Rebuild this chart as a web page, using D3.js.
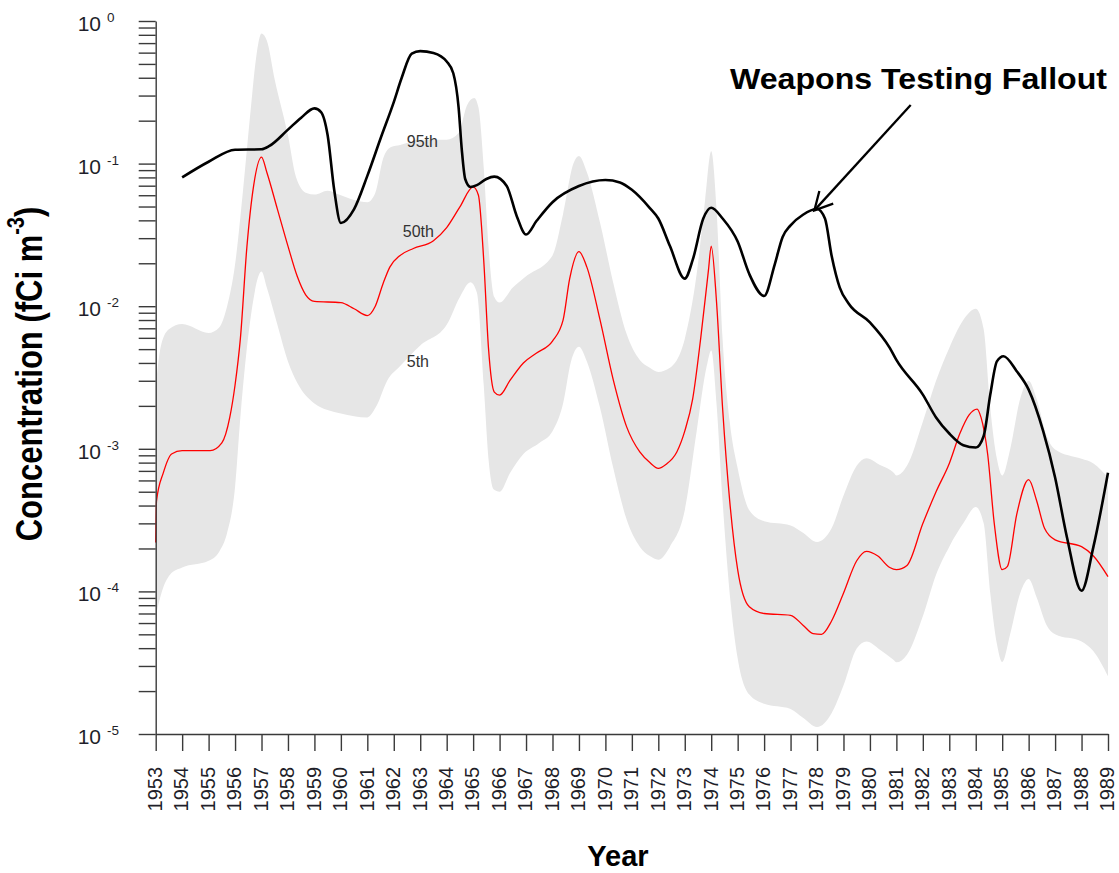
<!DOCTYPE html>
<html>
<head>
<meta charset="utf-8">
<script src="https://cdn.jsdelivr.net/npm/d3@7"></script>
<style>
  html, body { margin: 0; padding: 0; background: #fff; }
  svg { display: block; }
  text { font-family: "Liberation Sans", Arial, Helvetica, sans-serif; }
</style>
</head>
<body>
<svg id="chart" width="1119" height="873"></svg>
<script>
// ---------------- DATA ----------------
const years = d3.range(1953, 1990);
const yDecades = [1, 0.1, 0.01, 0.001, 0.0001, 0.00001];
const yDecadeExponents = ["0", "-1", "-2", "-3", "-4", "-5"];
const percentileLabels = ["95th", "50th", "5th"];
const annotationText = "Weapons Testing Fallout";
const xTitle = "Year";

// Weapons testing fallout (black line) [year, fCi m^-3]
const fallout = [
  [1954,0.080],[1955,0.103],[1956,0.125],[1957,0.126],[1957.3,0.133],[1958,0.173],[1958.5,0.21],
  [1959,0.244],[1959.25,0.23],[1959.5,0.158],[1959.75,0.065],[1960,0.0383],[1960.5,0.048],
  [1961,0.082],[1961.5,0.15],[1962,0.27],[1962.3,0.40],[1962.68,0.59],[1963,0.615],
  [1963.5,0.597],[1964,0.52],[1964.25,0.43],[1964.45,0.248],[1964.57,0.126],[1964.7,0.078],
  [1964.9,0.0686],[1965.14,0.0706],[1965.5,0.078],[1965.8,0.081],[1966.27,0.0696],[1966.65,0.0428],
  [1967,0.0318],[1967.4,0.0397],[1968,0.0536],[1969,0.0696],[1970,0.0767],[1970.55,0.0738],
  [1971,0.0655],[1971.68,0.0488],[1972,0.0412],[1972.44,0.0264],[1973,0.0156],[1973.3,0.0211],
  [1973.7,0.0412],[1974,0.049],[1974.43,0.0412],[1975,0.0284],[1975.44,0.0168],[1976,0.0118],
  [1976.4,0.0196],[1976.7,0.0306],[1977,0.0369],[1977.47,0.0438],[1978,0.048],[1978.3,0.0412],
  [1978.55,0.0227],[1978.86,0.0135],[1979.2,0.0104],[1980,0.0077],[1980.75,0.0051],[1981,0.0042],
  [1982,0.0024],[1982.5,0.00166],[1983,0.00128],[1983.53,0.00106],[1984,0.00102],[1984.3,0.00123],
  [1984.55,0.0024],[1984.8,0.0041],[1985.05,0.00446],[1985.55,0.0035],[1986,0.0026],[1986.55,0.00133],
  [1987,0.00063],[1987.45,0.000239],[1988,0.000101],[1988.45,0.000206],[1989,0.00068]
];

// 50th percentile (red line)
const median = [
  [1953,0.00022],[1953.03,0.00043],[1953.29,0.00068],[1953.6,0.00092],[1954,0.00097],[1955.06,0.00097],
  [1955.5,0.0011],[1955.8,0.00166],[1956,0.0028],[1956.2,0.0059],[1956.45,0.0264],[1956.7,0.0696],
  [1957,0.111],[1957.2,0.087],[1957.6,0.048],[1958,0.0264],[1958.35,0.0162],[1958.67,0.012],
  [1959,0.0108],[1960,0.0106],[1960.5,0.0096],[1961,0.0086],[1961.3,0.010],[1961.6,0.0145],
  [1961.85,0.0188],[1962.24,0.0227],[1962.74,0.0254],[1963.5,0.0288],[1964,0.0356],[1964.5,0.0497],
  [1965,0.0686],[1965.2,0.060],[1965.4,0.0211],[1965.58,0.0051],[1965.8,0.0025],[1966,0.00238],
  [1966.4,0.00303],[1966.9,0.0040],[1967.4,0.0047],[1968,0.0057],[1968.4,0.00798],[1968.65,0.0156],
  [1969,0.0241],[1969.3,0.0188],[1969.8,0.00798],[1970.3,0.00303],[1970.8,0.00143],[1971.3,0.00095],
  [1971.68,0.00080],[1972,0.00073],[1972.3,0.00078],[1972.7,0.00095],[1973,0.00133],[1973.3,0.00224],
  [1973.6,0.0059],[1973.9,0.0182],[1974,0.0264],[1974.2,0.0108],[1974.43,0.00193],[1974.7,0.00043],
  [1975,0.000142],[1975.44,0.000078],[1976,0.000070],[1977,0.000068],[1977.47,0.000058],
  [1977.85,0.0000506],[1978.17,0.000050],[1978.55,0.000062],[1979,0.000097],[1979.5,0.000164],
  [1979.87,0.000191],[1980.3,0.000177],[1980.75,0.000147],[1981,0.000142],[1981.4,0.000152],
  [1982,0.000299],[1982.5,0.00050],[1983,0.00079],[1983.4,0.00128],[1983.75,0.00173],[1984.05,0.0019],
  [1984.2,0.00166],[1984.45,0.00092],[1984.7,0.00030],[1985,0.000142],[1985.2,0.00015],
  [1985.55,0.000347],[1986,0.000607],[1986.3,0.000434],[1986.6,0.000277],[1987,0.00023],
  [1988,0.000206],[1988.45,0.000177],[1989,0.000127]
];

// 95th percentile (upper edge of grey band)
const upper95 = [
  [1953,0.0027],[1953.2,0.0053],[1953.5,0.0069],[1954,0.0075],[1955,0.0065],[1955.4,0.0071],
  [1955.7,0.010],[1956,0.0196],[1956.3,0.0645],[1956.6,0.248],[1956.8,0.56],[1957,0.818],
  [1957.2,0.73],[1957.5,0.388],[1958,0.158],[1958.3,0.081],[1958.7,0.0622],[1959,0.0606],
  [1959.5,0.0645],[1960,0.060],[1960.5,0.0556],[1961,0.0536],[1961.3,0.0622],[1961.6,0.109],
  [1961.9,0.131],[1962.24,0.135],[1963,0.147],[1964,0.147],[1964.45,0.164],[1964.77,0.257],
  [1965.04,0.288],[1965.2,0.248],[1965.4,0.094],[1965.58,0.0264],[1965.8,0.0116],[1966,0.0106],
  [1966.5,0.0135],[1967,0.0162],[1968,0.0227],[1968.4,0.0444],[1968.8,0.101],[1969,0.113],
  [1969.3,0.087],[1969.8,0.0383],[1970.3,0.0145],[1970.8,0.0064],[1971.3,0.0042],[1971.68,0.0037],
  [1972,0.00346],[1972.44,0.0037],[1973,0.0059],[1973.45,0.0168],[1973.77,0.0556],[1974,0.122],
  [1974.2,0.048],[1974.43,0.0059],[1974.7,0.00155],[1975,0.00073],[1975.44,0.00037],[1976,0.00031],
  [1977,0.00029],[1977.47,0.000258],[1978,0.000222],[1978.55,0.000277],[1979,0.000468],
  [1979.5,0.00076],[1979.87,0.00086],[1980.38,0.00077],[1980.9,0.00068],[1981,0.00065],
  [1981.4,0.00076],[1982,0.00155],[1982.5,0.0030],[1983,0.0051],[1983.53,0.0080],[1984,0.0096],
  [1984.3,0.0069],[1984.55,0.00193],[1984.8,0.00085],[1985,0.00065],[1985.3,0.00099],
  [1985.68,0.00224],[1986,0.0030],[1986.3,0.00224],[1986.68,0.00123],[1987,0.00099],
  [1988,0.00085],[1988.45,0.00079],[1989,0.00063]
];

// 5th percentile (lower edge of grey band)
const lower5 = [
  [1953,0.000067],[1953.22,0.000098],[1953.54,0.000131],[1954,0.000147],[1955,0.000164],
  [1955.4,0.00019],[1955.7,0.000258],[1956,0.00054],[1956.2,0.00166],[1956.6,0.0086],[1957,0.0175],
  [1957.2,0.0135],[1957.6,0.0074],[1958,0.0041],[1958.35,0.0029],[1959,0.00208],[1960,0.00177],
  [1961,0.00166],[1961.35,0.0020],[1961.75,0.0030],[1962.24,0.0038],[1963,0.0053],[1964,0.0074],
  [1964.5,0.0116],[1964.9,0.0147],[1965.14,0.0125],[1965.4,0.0028],[1965.58,0.00085],[1965.77,0.00052],
  [1966,0.00050],[1966.4,0.00068],[1966.9,0.00092],[1967.5,0.0011],[1968,0.00133],[1968.4,0.00208],
  [1968.7,0.0041],[1969,0.0052],[1969.3,0.0041],[1969.8,0.00193],[1970.3,0.00073],[1970.8,0.00032],
  [1971.3,0.000206],[1971.68,0.000177],[1972,0.000167],[1972.44,0.000206],[1973,0.00037],
  [1973.45,0.00133],[1973.83,0.0038],[1974,0.0049],[1974.2,0.00208],[1974.43,0.00043],
  [1974.75,0.000078],[1975,0.000034],[1975.44,0.0000189],[1976,0.0000163],[1977,0.000015],
  [1977.47,0.000013],[1978,0.0000112],[1978.55,0.000014],[1979,0.0000219],[1979.5,0.0000398],
  [1979.87,0.0000445],[1980.38,0.000039],[1980.9,0.000033],[1981,0.0000318],[1981.4,0.000036],
  [1982,0.000067],[1982.5,0.000131],[1983,0.000206],[1983.53,0.00030],[1984,0.00039],[1984.3,0.00030],
  [1984.55,0.000097],[1984.8,0.000043],[1985,0.000032],[1985.3,0.000050],[1985.68,0.000097],
  [1986,0.000122],[1986.3,0.000091],[1986.68,0.000058],[1987,0.000050],[1988,0.0000445],
  [1988.45,0.000038],[1989,0.0000254]
];

// ---------------- CHART ----------------
const svg = d3.select("#chart");
const x = d3.scaleLinear().domain([1953, 1989]).range([155.7, 1108]);
const y = d3.scaleLog().domain([1e-5, 1]).range([734, 21]);
const axisColor = "#3a3a3a";

const lineGen = d3.line().x(d => x(d[0])).y(d => y(d[1])).curve(d3.curveMonotoneX);

// Grey band (95th to 5th)
const upperPath = lineGen(upper95);
const lowerPath = lineGen(lower5.slice().reverse());
svg.append("path")
  .attr("d", upperPath + "L" + lowerPath.slice(1) + "Z")
  .attr("fill", "#e6e6e6")
  .attr("stroke", "none");

// Percentile labels
const labelPos = [[1962.49, 0.1307], [1962.34, 0.0307], [1962.49, 0.00375]];
svg.selectAll("text.pct").data(percentileLabels).enter().append("text")
  .attr("class", "pct")
  .attr("x", (d, i) => x(labelPos[i][0]))
  .attr("y", (d, i) => y(labelPos[i][1]))
  .attr("font-size", 16)
  .attr("fill", "#333")
  .text(d => d);

// Median (red)
svg.append("path")
  .attr("d", lineGen(median))
  .attr("fill", "none")
  .attr("stroke", "#ff0000")
  .attr("stroke-width", 1.3);

// Fallout (black)
svg.append("path")
  .attr("d", lineGen(fallout))
  .attr("fill", "none")
  .attr("stroke", "#000")
  .attr("stroke-width", 2.6)
  .attr("stroke-linejoin", "round");

// Y axis with log minor ticks
const logTicks = [];
for (let e = -5; e <= 0; e++) {
  for (let m = 1; m <= 9; m++) {
    const v = m * Math.pow(10, e);
    if (v <= 1.0000001) logTicks.push(v);
  }
}
const yAxis = svg.append("g")
  .attr("transform", `translate(${x(1953)},0)`)
  .call(d3.axisLeft(y).tickValues(logTicks).tickSize(17).tickSizeOuter(0).tickFormat(""));
yAxis.selectAll("path,line").attr("stroke", axisColor).attr("stroke-width", 1.4);

// Y tick labels with superscripts
yDecades.forEach((v, i) => {
  svg.append("text")
    .attr("x", 101)
    .attr("y", y(v) + 10)
    .attr("text-anchor", "end")
    .attr("font-size", 21)
    .attr("fill", "#1f1f2a")
    .text("10");
  svg.append("text")
    .attr("x", 107)
    .attr("y", y(v) + 1)
    .attr("font-size", 13.5)
    .attr("fill", "#1f1f2a")
    .text(yDecadeExponents[i]);
});

// X axis
const xAxis = svg.append("g")
  .attr("transform", `translate(0,${y(1e-5)})`)
  .call(d3.axisBottom(x).tickValues(years).tickSize(17).tickSizeOuter(0).tickFormat(""));
xAxis.selectAll("path,line").attr("stroke", axisColor).attr("stroke-width", 1.4);

svg.selectAll("text.year").data(years).enter().append("text")
  .attr("class", "year")
  .attr("transform", d => `translate(${x(d)},767) scale(1.05,1) rotate(-90)`)
  .attr("text-anchor", "end")
  .attr("dy", "0.3em")
  .attr("font-size", 20)
  .attr("fill", "#1f1f2a")
  .text(d => String(d));

// Axis titles
svg.append("text")
  .attr("x", 618)
  .attr("y", 866)
  .attr("text-anchor", "middle")
  .attr("font-size", 29)
  .attr("font-weight", "bold")
  .attr("fill", "#000")
  .text(xTitle);

const yt = svg.append("text")
  .attr("transform", "translate(29,374) scale(1.2,1) rotate(-90)")
  .attr("text-anchor", "middle")
  .attr("dy", "0.35em")
  .attr("font-size", 31)
  .attr("font-weight", "bold")
  .attr("fill", "#000");
yt.append("tspan").text("Concentration (fCi m");
yt.append("tspan").attr("font-size", 20).attr("dy", "-0.75em").text("-3");
yt.append("tspan").attr("dy", "0.465em").text(")");

// Annotation
svg.append("text")
  .attr("x", 730)
  .attr("y", 89)
  .attr("font-size", 29)
  .attr("font-weight", "bold")
  .attr("fill", "#000")
  .attr("textLength", 377)
  .attr("lengthAdjust", "spacingAndGlyphs")
  .text(annotationText);

const tip = [x(1977.9), y(0.047)];
const tail = [910.7, 105];
const ang = Math.atan2(tail[1] - tip[1], tail[0] - tip[0]);
const bl = 20, ba = 28 * Math.PI / 180;
const b1 = [tip[0] + bl * Math.cos(ang - ba), tip[1] + bl * Math.sin(ang - ba)];
const b2 = [tip[0] + bl * Math.cos(ang + ba), tip[1] + bl * Math.sin(ang + ba)];
svg.append("line")
  .attr("x1", tail[0]).attr("y1", tail[1]).attr("x2", tip[0]).attr("y2", tip[1])
  .attr("stroke", "#000").attr("stroke-width", 2.3);
svg.append("path")
  .attr("d", `M${b1[0]},${b1[1]}L${tip[0]},${tip[1]}L${b2[0]},${b2[1]}`)
  .attr("fill", "none").attr("stroke", "#000").attr("stroke-width", 2.3)
  .attr("stroke-linejoin", "miter");
</script>
</body>
</html>
